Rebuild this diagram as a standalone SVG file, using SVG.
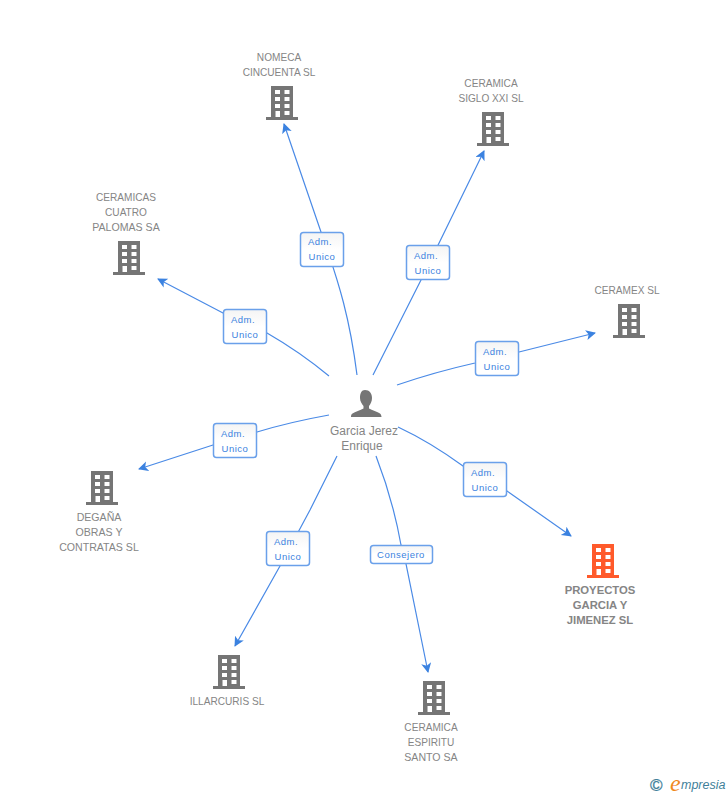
<svg xmlns="http://www.w3.org/2000/svg" width="728" height="795" viewBox="0 0 728 795">
<style>
text{font-family:"Liberation Sans",Arial,sans-serif}
.n{font-size:10.1px;fill:#858585;text-anchor:middle}
.w{font-size:10.6px}
.b{font-size:11.3px;font-weight:bold;fill:#858585;text-anchor:middle}
.p{font-size:12px;fill:#858585;text-anchor:middle}
.l{font-size:9.5px;fill:#3b82e0;text-anchor:middle;letter-spacing:.5px}
.c{fill:none;stroke:#4a8ae6;stroke-width:1.2;marker-end:url(#a)}
.r{fill:url(#g);stroke:#6aa0ea;stroke-width:1.5}
</style>
<defs>
<linearGradient id="g" x1="0" y1="0" x2="0" y2="1"><stop offset="0" stop-color="#f4f4f4"/><stop offset=".5" stop-color="#fff"/></linearGradient>
<marker id="a" markerWidth="12" markerHeight="12" refX="9" refY="5" orient="auto" markerUnits="userSpaceOnUse"><path d="M0 0L10 5L0 10L2.500 5Z" fill="#3b82e0"/></marker>
<symbol id="bld" width="32" height="34" viewBox="0 0 32 34" overflow="visible">
<path fill-rule="evenodd" d="M5 0H27V31H32V34H0V31H5ZM9 4V8H14V4ZM18.500 4V8H23.500V4ZM9 11V15H14V11ZM18.500 11V15H23.500V11ZM9 18V22H14V18ZM18.500 18V22H23.500V18ZM9.500 25V31H14V25ZM18.500 25V29H23.500V25Z"/>
</symbol>
</defs>
<g id="connectors">
<path class="c" d="M357 375C350 320 340 285 321 232L284 124"/>
<path class="c" d="M373 375L421 280L484 151"/>
<path class="c" d="M329 376Q300 352 267 333L223 313L158 279"/>
<path class="c" d="M397 385Q435 372 475 363L519 352L595 333"/>
<path class="c" d="M329 415Q290 422 257 432L213 445L139 469"/>
<path class="c" d="M337 456L310 510L280 566L235 646"/>
<path class="c" d="M376 456Q393 500 401 545L406 564L428 672"/>
<path class="c" d="M398 427Q430 442 463 466L507 491L571 536"/>
</g>
<g id="link-labels">
<g><rect class="r" x="300.500" y="232.500" width="43" height="34" rx="3"/><text class="l" x="320" y="245">Adm.</text><text class="l" x="322" y="260">Unico</text></g>
<g><rect class="r" x="406.500" y="245.500" width="43" height="34" rx="3"/><text class="l" x="426" y="259">Adm.</text><text class="l" x="428" y="274">Unico</text></g>
<g><rect class="r" x="223.500" y="309.500" width="43" height="34" rx="3"/><text class="l" x="243" y="323">Adm.</text><text class="l" x="245" y="338">Unico</text></g>
<g><rect class="r" x="475.500" y="341.500" width="43" height="34" rx="3"/><text class="l" x="495" y="355">Adm.</text><text class="l" x="497" y="370">Unico</text></g>
<g><rect class="r" x="213.500" y="423.500" width="43" height="34" rx="3"/><text class="l" x="233" y="437">Adm.</text><text class="l" x="235" y="452">Unico</text></g>
<g><rect class="r" x="463.500" y="462.500" width="43" height="34" rx="3"/><text class="l" x="483" y="476">Adm.</text><text class="l" x="485" y="491">Unico</text></g>
<g><rect class="r" x="266.500" y="531.500" width="43" height="34" rx="3"/><text class="l" x="286" y="545">Adm.</text><text class="l" x="288" y="560">Unico</text></g>
<g><rect class="r" x="370.500" y="545.500" width="62" height="18" rx="3"/><text class="l" x="401" y="558">Consejero</text></g>
</g>
<g id="person">
<path fill="#757575" transform="translate(-1 0)" d="M366 390c4.500 0 7 3.500 7 8c0 3.500-1.500 6-3 8v2.500c3 2 8.500 3 11 5c1.500 1.500 1.500 3 1.500 3.500H352c0-1 0-2.500 1.500-3.500c2.500-2 8-3 11-5v-2.500c-1.500-2-3.500-4.500-3.500-8c0-4.500 1.500-8 5-8Z"/>
<text class="p" x="364" y="435">Garcia Jerez</text><text class="p" x="362" y="450">Enrique</text>
</g>
<g id="nomeca"><use href="#bld" x="266" y="86" fill="#757575"/><text class="n" x="279" y="61">NOMECA</text><text class="n" x="279" y="76">CINCUENTA SL</text></g>
<g id="siglo"><use href="#bld" x="477" y="112" fill="#757575"/><text class="n" x="491" y="87">CERAMICA</text><text class="n" x="491" y="102">SIGLO XXI SL</text></g>
<g id="cuatro"><use href="#bld" x="113" y="241" fill="#757575"/><text class="n" x="126" y="201">CERAMICAS</text><text class="n" x="126" y="216">CUATRO</text><text class="n w" x="126" y="231">PALOMAS SA</text></g>
<g id="ceramex"><use href="#bld" x="613" y="304" fill="#757575"/><text class="n" x="627" y="294">CERAMEX SL</text></g>
<g id="degana"><use href="#bld" x="86" y="471" fill="#757575"/><text class="n w" x="99" y="521">DEGAÑA</text><text class="n w" x="99" y="536">OBRAS Y</text><text class="n w" x="99" y="551">CONTRATAS SL</text></g>
<g id="illarcuris"><use href="#bld" x="213" y="655" fill="#757575"/><text class="n" x="227" y="705">ILLARCURIS SL</text></g>
<g id="espiritu"><use href="#bld" x="418" y="681" fill="#757575"/><text class="n" x="431" y="731">CERAMICA</text><text class="n" x="431" y="746">ESPIRITU</text><text class="n w" x="431" y="761">SANTO SA</text></g>
<g id="proyectos"><use href="#bld" x="587" y="544" fill="#ff5a2b"/><text class="b" x="600" y="594">PROYECTOS</text><text class="b" x="600" y="609">GARCIA Y</text><text class="b" x="600" y="624">JIMENEZ SL</text></g>
<g id="brand">
<text x="650" y="791" font-size="17" fill="#3f7f9a" stroke="#3f7f9a" stroke-width=".3">©</text>
<text x="670" y="791" font-size="24" font-style="italic" fill="#f08a1d" style="font-family:'Liberation Serif',serif">e</text>
<text x="681" y="789" font-size="12.500" font-style="italic" fill="#3f7f9a">mpresia</text>
</g>
</svg>
